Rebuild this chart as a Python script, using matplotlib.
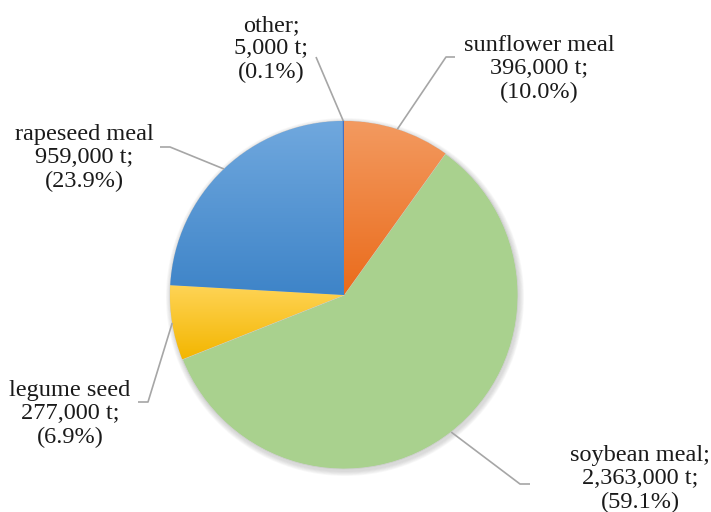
import numpy as np
import matplotlib.pyplot as plt
from matplotlib.colors import LinearSegmentedColormap
from matplotlib.patches import Circle

# data, in the order the slices go round (clockwise from 12 o'clock)
names = ['sunflower meal', 'soybean meal;', 'legume seed', 'rapeseed meal', 'other;']
tonnes = [396000, 2363000, 277000, 959000, 5000]
shares = [10.0, 59.1, 6.9, 23.9, 0.1]

# top / bottom colour of each slice gradient
top_cols = ['#F39A60', '#A9D18E', '#FFD457', '#70A8DE', '#4472C4']
bot_cols = ['#EA6B1B', '#A9D18E', '#F3B600', '#3E84C8', '#4472C4']

W, H = 711, 512
fig = plt.figure(figsize=(W / 100, H / 100), dpi=100)
ax = fig.add_axes([0, 0, 1, 1])

cx, cy, R = 344, H - 295, 174

# soft shadow around the pie
for k in range(6):
    ax.add_patch(Circle((cx + 1, cy - 2), R + 1 + k * 0.8, color='#808080',
                        alpha=0.05, lw=0, zorder=0))

wedges, _ = ax.pie(tonnes, startangle=90, counterclock=False,
                   center=(cx, cy), radius=R, colors=bot_cols,
                   wedgeprops=dict(lw=0.6, edgecolor='#d0d0d0'))
wedges[-1].set_edgecolor('#4472C4')

for w, c1, c2 in zip(wedges, top_cols, bot_cols):
    if c1 == c2:
        continue
    ext = w.get_path().get_extents()
    cmap = LinearSegmentedColormap.from_list('g', [c2, c1])
    grad = np.linspace(0, 1, 256).reshape(-1, 1)
    im = ax.imshow(grad, cmap=cmap, origin='lower', aspect='auto',
                   extent=[ext.x0, ext.x1, ext.y0, ext.y1], zorder=1.5)
    im.set_clip_path(w)

ax.set_xlim(0, W)
ax.set_ylim(0, H)
ax.set_aspect('equal')
ax.axis('off')

# label layout: (text centre x, text centre y, elbow point, end of leader) in pixels
layout = [
    (539, 69, (446, 57), (455, 57)),
    (640, 479, (520, 484), (530, 484)),
    (70, 414, (148, 402), (138, 402)),
    (84, 158, (170, 147), (160, 147)),
    (271, 49, (316, 57), None),
]

for name, t, s, w, (tx, ty, elb, end) in zip(names, tonnes, shares, wedges, layout):
    mid = np.deg2rad((w.theta1 + w.theta2) / 2)
    ax_, ay_ = cx + R * np.cos(mid), cy + R * np.sin(mid)
    xs = [ax_, elb[0]]
    ys = [ay_, H - elb[1]]
    if end is not None:
        xs.append(end[0])
        ys.append(H - end[1])
    ax.plot(xs, ys, color='#a6a6a6', lw=1.2, zorder=3, solid_capstyle='butt')
    label = '%s\n%s t;\n(%.1f%%)' % (name, format(t, ','), s)
    fig.text(tx / W, 1 - ty / H, label, ha='center', va='center',
             family='Liberation Serif', fontsize=17.5, linespacing=1.15,
             color='#1a1a1a')

plt.savefig('out.png', dpi=100)
